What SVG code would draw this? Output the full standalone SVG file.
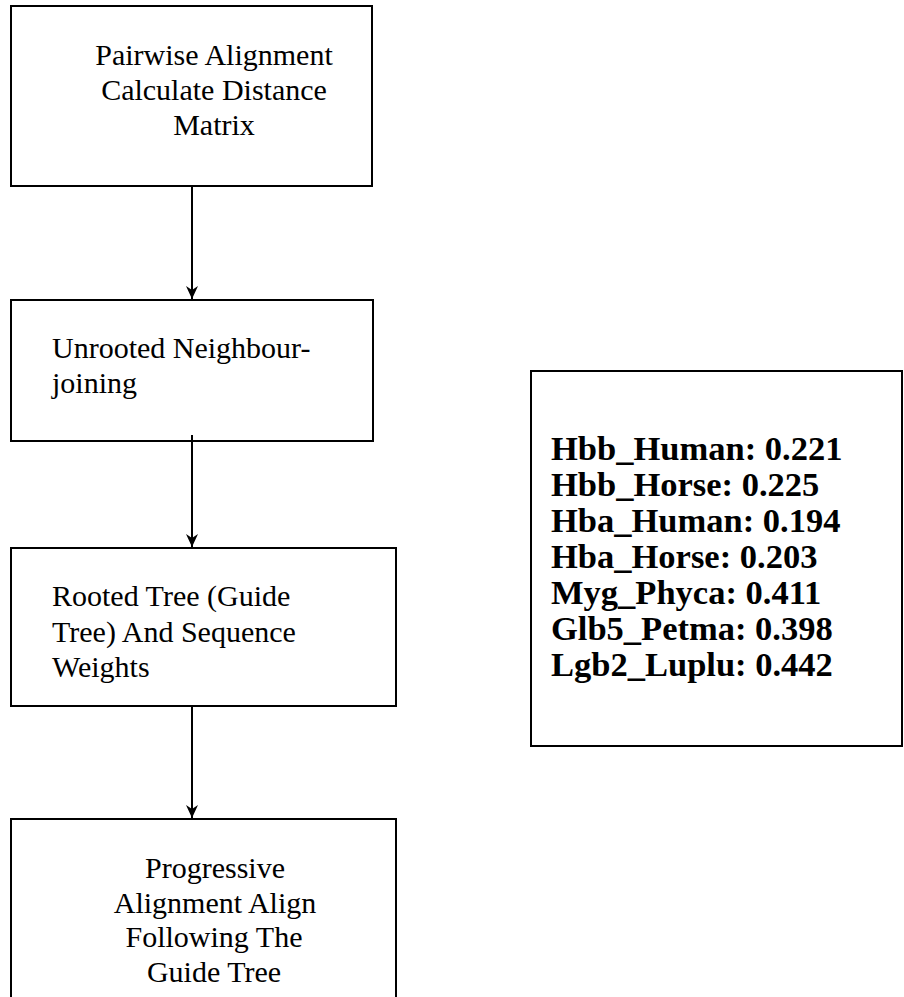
<svg xmlns="http://www.w3.org/2000/svg" width="904" height="997" viewBox="0 0 904 997">
  <style>
    .box { fill: #ffffff; stroke: #000000; stroke-width: 2; }
    .label { font-family: "Liberation Serif", "Times New Roman", serif; font-size: 30px; fill: #000000; }
    .mid { text-anchor: middle; }
    .weights { font-family: "Liberation Serif", "Times New Roman", serif; font-size: 34.5px; font-weight: bold; fill: #000000; }
    .link { stroke: #000000; stroke-width: 2; fill: none; marker-end: url(#head); }
  </style>
  <defs>
    <!-- notched arrowhead, drawn pointing along +x -->
    <marker id="head" viewBox="0 0 13 12" refX="13" refY="6" markerWidth="13" markerHeight="12" markerUnits="userSpaceOnUse" orient="auto">
      <path d="M0,0 L13,6 L0,12 L4,6 Z" fill="#000000"/>
    </marker>
  </defs>
  <rect width="904" height="997" fill="#ffffff"/>

  <!-- flow steps -->
  <g id="pairwise">
    <rect class="box" x="11" y="6" width="361" height="180"/>
    <text class="label mid" x="214" y="65">Pairwise Alignment</text>
    <text class="label mid" x="214" y="100">Calculate Distance</text>
    <text class="label mid" x="214" y="135">Matrix</text>
  </g>

  <g id="neighbour-joining">
    <rect class="box" x="11" y="300" width="362" height="141"/>
    <text class="label" x="52" y="358">Unrooted Neighbour-</text>
    <text class="label" x="52" y="393">joining</text>
  </g>

  <g id="guide-tree">
    <rect class="box" x="11" y="548" width="385" height="158"/>
    <text class="label" x="52" y="606">Rooted Tree (Guide</text>
    <text class="label" x="52" y="642">Tree) And Sequence</text>
    <text class="label" x="52" y="677">Weights</text>
  </g>

  <g id="progressive">
    <path class="box" d="M11,1000 L11,819 L396,819 L396,1000"/>
    <text class="label mid" x="215" y="878">Progressive</text>
    <text class="label mid" x="215" y="913">Alignment Align</text>
    <text class="label mid" x="214" y="947">Following The</text>
    <text class="label mid" x="214" y="982">Guide Tree</text>
  </g>

  <!-- sequence weights panel -->
  <g id="weights">
    <rect class="box" x="531" y="371" width="371" height="375"/>
    <text class="weights" x="551" y="460">Hbb_Human: 0.221</text>
    <text class="weights" x="551" y="496">Hbb_Horse: 0.225</text>
    <text class="weights" x="551" y="532">Hba_Human: 0.194</text>
    <text class="weights" x="551" y="568">Hba_Horse: 0.203</text>
    <text class="weights" x="551" y="604">Myg_Phyca: 0.411</text>
    <text class="weights" x="551" y="640">Glb5_Petma: 0.398</text>
    <text class="weights" x="551" y="676">Lgb2_Luplu: 0.442</text>
  </g>

  <!-- connectors -->
  <g id="connectors">
    <line class="link" x1="192" y1="187" x2="192" y2="299"/>
    <line class="link" x1="192" y1="435" x2="192" y2="547"/>
    <line class="link" x1="192" y1="707" x2="192" y2="818"/>
  </g>
</svg>
